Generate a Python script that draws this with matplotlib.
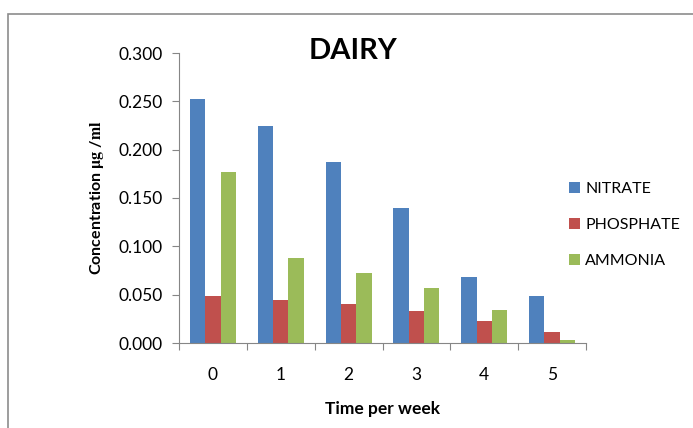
import matplotlib
matplotlib.use("Agg")
import matplotlib.pyplot as plt
import numpy as np
from matplotlib.patches import Rectangle

weeks = ["0", "1", "2", "3", "4", "5"]
nitrate = [0.252, 0.224, 0.187, 0.140, 0.068, 0.049]
phosphate = [0.049, 0.045, 0.040, 0.033, 0.023, 0.011]
ammonia = [0.177, 0.088, 0.072, 0.057, 0.034, 0.003]
series_names = ["NITRATE", "PHOSPHATE", "AMMONIA"]
colors = ["#4F81BD", "#C0504D", "#9BBB59"]
yticks = [0.0, 0.05, 0.10, 0.15, 0.20, 0.25, 0.30]

plt.rcParams['font.family'] = ['Lato', 'DejaVu Sans']
plt.rcParams['mathtext.fontset'] = 'stix'

W, H = 693, 428
fig = plt.figure(figsize=(W/100, H/100), dpi=100)
fig.patches.append(Rectangle((8/W, -0.1), 1.2, 1 - 14/H + 0.1, transform=fig.transFigure,
                             fill=False, edgecolor="#8c8c8c", linewidth=1.2, clip_on=False))

ax = fig.add_axes([179/W, 1 - 343/H, (586 - 179)/W, (343 - 53)/H])
x = np.arange(len(weeks))
bw = 0.226
for i, (vals, name, c) in enumerate(zip([nitrate, phosphate, ammonia], series_names, colors)):
    ax.bar(x + (i - 1) * bw, vals, width=bw, color=c, label=name)

ax.set_xlim(-0.5, len(weeks) - 0.5)
ax.set_ylim(0, 0.30)
ax.set_yticks(yticks)
ax.set_yticklabels([f"{v:.3f}" for v in yticks], fontsize=12.5)
ax.set_xticks(np.arange(-0.5, len(weeks), 1.0))
ax.set_xticklabels([])
ax.set_xticks(x, minor=True)
ax.set_xticklabels(weeks, minor=True, fontsize=12.5)
ax.tick_params(axis='x', which='minor', length=0, pad=17)
ax.tick_params(axis='x', which='major', length=5, color="#868686", direction='out')
ax.tick_params(axis='y', length=5, color="#868686", direction='out', pad=7)
for s in ["top", "right"]:
    ax.spines[s].set_visible(False)
for s in ["left", "bottom"]:
    ax.spines[s].set_color("#868686")

ax.set_xlabel("Time per week", fontsize=12.5, fontweight="bold", labelpad=13)
ax.set_ylabel("Concentration " + r"$\mathbf{\mu g}$ /$\mathbf{ml}$", fontsize=11.5,
              fontweight="bold", labelpad=9)
fig.text(353/W, 1 - 51/H, "DAIRY", fontsize=21, fontweight="bold", ha="center", va="center")

leg = fig.legend(loc="upper left", bbox_to_anchor=(555/W, 1 - 168/H), frameon=False,
                 fontsize=11.5, handlelength=0.65, handleheight=0.65, labelspacing=1.37,
                 handletextpad=0.35)

fig.savefig("out.png", dpi=100)
